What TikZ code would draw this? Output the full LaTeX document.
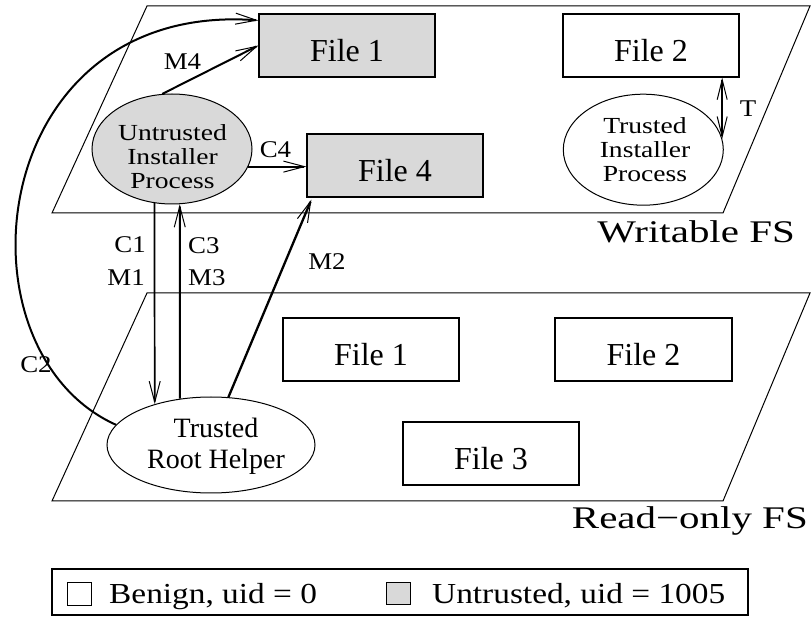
\documentclass[tikz,border=0pt]{standalone}
\usepackage{fontspec}
\setmainfont{Liberation Serif}
\newfontfamily\fsfont{Liberation Serif}[FakeStretch=1.3]
\newfontfamily\procfont{Liberation Serif}[FakeStretch=1.2]
\newfontfamily\lblfont{Liberation Serif}[FakeStretch=1.12]
\newfontfamily\legfont{Liberation Serif}[FakeStretch=1.15]
\usetikzlibrary{arrows.meta,shapes.geometric}
\begin{document}
\begin{tikzpicture}[x=1pt,y=-1pt,
  plane/.style={draw,line width=1pt},
  filebox/.style={draw,line width=1.2pt,rectangle,minimum width=176pt,minimum height=63pt,inner sep=0pt,text height=32pt,text depth=0pt,font=\fontsize{32}{36}\selectfont},
  untrusted/.style={fill=black!15},
  proc/.style={draw,line width=1pt,ellipse,inner sep=0pt},
  proctext/.style={align=center,inner sep=0pt,font=\procfont\fontsize{23}{24}\selectfont},
  rhtext/.style={align=center,inner sep=0pt,font=\fontsize{28}{31}\selectfont},
  elabel/.style={inner sep=0pt,font=\lblfont\fontsize{24}{26}\selectfont},
  fslabel/.style={inner sep=0pt,anchor=base east,font=\fsfont\fontsize{31.5}{34}\selectfont},
  leglabel/.style={inner sep=0pt,anchor=base west,font=\legfont\fontsize{29}{32}\selectfont},
  conn/.style={line width=2pt,-{Straight Barb[length=21pt,width=11pt,line width=1pt]}},
  tconn/.style={line width=1.5pt,{Straight Barb[length=20pt,width=10pt,line width=1pt]}-{Straight Barb[length=20pt,width=10pt,line width=1pt]}},
  legsq/.style={draw,line width=1pt,minimum width=24pt,minimum height=22pt,inner sep=0pt},
]
\useasboundingbox (0,0) rectangle (812,617);

% file-system planes
\draw[plane] (52,213) -- (723,213) -- (810,6) -- (147,6) -- cycle;
\draw[plane] (52,501) -- (723,501) -- (810,293) -- (147,293) -- cycle;

% files
\node[filebox,untrusted] (f1w) at (347,45.5) {File 1};
\node[filebox] (f2w) at (651,45.5) {File 2};
\node[filebox,untrusted] (f4w) at (395,165.5) {File 4};
\node[filebox] (f1r) at (371,349.5) {File 1};
\node[filebox,minimum width=177pt] (f2r) at (643.5,349.5) {File 2};
\node[filebox] (f3r) at (491,453.5) {File 3};

% processes
\node[proc,untrusted,minimum width=160pt,minimum height=110pt] (ui) at (172,149) {};
\node[proctext] (uit) at (172.5,157) {Untrusted\\Installer\\Process};
\node[proc,minimum width=160pt,minimum height=111pt] (ti) at (643.3,149.7) {};
\node[proctext] (tit) at (645,150) {Trusted\\Installer\\Process};
\node[proc,minimum width=208pt,minimum height=96pt] (rh) at (211,445) {};
\node[rhtext] (rht) at (216,446.3) {Trusted\\Root Helper};

% connectors
\draw[conn] (ui.100) -- (f1w.west);
\draw[conn] (ui.347) -- (ui.347 -| f4w.west);
\draw[conn,line width=1.7pt] (ui.252.5) -- (rh.144.2);
\draw[conn] (rh.124.1) -- (ui.278.3);
\draw[conn,line width=2.3pt] (rh.70.3) -- ([xshift=5pt,yshift=-2pt]f4w.south west);
\draw[conn] (rh.168) .. controls (-50,350) and (-15,0) .. ([yshift=-7pt]f1w.north west);
\draw[tconn] (ti.8.5 |- f2w.south) -- (ti.8.5);

% connector labels
\node[elabel,anchor=base] (lm4) at (182.5,70) {M4};
\node[elabel,anchor=base] (lc4) at (275.5,158) {C4};
\node[elabel,anchor=base east] (lc1) at (146,253) {C1};
\node[elabel,anchor=base east] (lm1) at (145,286) {M1};
\node[elabel,anchor=base west] (lc3) at (188,253.5) {C3};
\node[elabel,anchor=base west] (lm3) at (188,286) {M3};
\node[elabel,anchor=base] (lm2) at (327,270) {M2};
\node[elabel,anchor=base] (lc2) at (36,373) {C2};
\node[elabel,anchor=base] (lt) at (748,117) {T};

% plane labels
\node[fslabel] (wfs) at (795,243) {Writable FS};
\node[fslabel] (rfs) at (808,529) {Read−only FS};

% legend
\node[draw,line width=1.2pt,minimum width=696pt,minimum height=46pt,inner sep=0pt] (leg) at (400,592) {};
\node[legsq] (sqb) at (79.5,594) {};
\node[legsq,untrusted] (squ) at (398.5,593.5) {};
\node[leglabel] (lb) at (109,603) {Benign, uid = 0};
\node[leglabel] (lu) at (432,603) {Untrusted, uid = 1005};
\end{tikzpicture}
\end{document}
